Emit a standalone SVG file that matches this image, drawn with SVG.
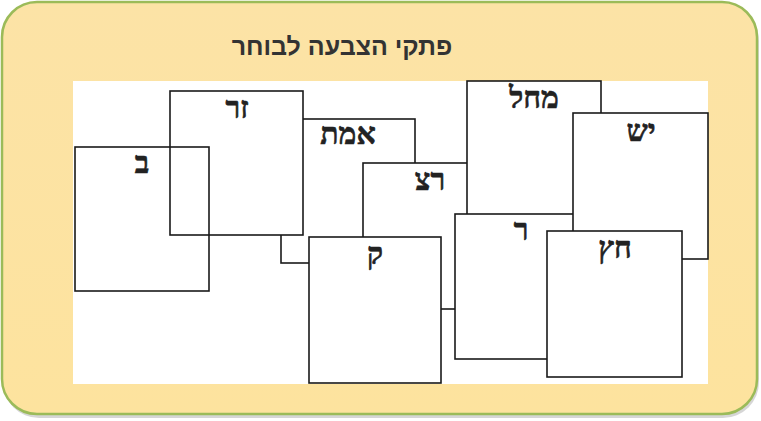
<svg xmlns="http://www.w3.org/2000/svg" width="761" height="421" viewBox="0 0 761 421">
<style>
.note{fill:#ffffff;stroke:#1a1a1a;stroke-width:1.6}
.open{fill:none;stroke:#1a1a1a;stroke-width:1.6}
.lbl{font-family:"Liberation Serif","DejaVu Serif",serif;font-size:30px;font-weight:bold;fill:#222;stroke:#222;stroke-width:0.6;text-anchor:middle}
.title{font-family:"Liberation Sans","DejaVu Sans",sans-serif;font-size:25px;font-weight:bold;fill:#333;text-anchor:middle}
</style>
<defs>
<linearGradient id="bg" x1="0" y1="0" x2="0" y2="1">
<stop offset="0" stop-color="#FCE3A6"/>
<stop offset="1" stop-color="#FDE39E"/>
</linearGradient>
</defs>
<g id="frame">
<rect x="3" y="5" width="756" height="413" rx="36" fill="#8a8a8a" opacity="0.35"/>
<rect x="2" y="2" width="755" height="412" rx="35" fill="url(#bg)" stroke="#9BBB59" stroke-width="2.5"/>
<rect x="73" y="81" width="635" height="303" fill="#ffffff"/>
<text class="title" x="342" y="55" direction="rtl">פתקי הצבעה לבוחר</text>
</g>
<g id="connectors"></g>
<g id="n-amt"><rect class="note" x="281" y="119" width="134" height="144"/><text class="lbl" x="348" y="144">אמת</text></g>
<g id="n-zr"><rect class="note" x="170" y="91" width="133" height="144"/><text class="lbl" x="237" y="118">זר</text></g>
<g id="n-rz"><rect class="note" x="363" y="163" width="134" height="146"/><text class="lbl" x="430" y="190">רצ</text></g>
<g id="n-k"><rect class="note" x="309" y="237" width="132" height="146"/><text class="lbl" x="375" y="264">ק</text></g>
<g id="n-mhl"><rect class="note" x="467" y="81" width="134" height="145"/><text class="lbl" x="534" y="108">מחל</text></g>
<g id="n-r"><rect class="note" x="455" y="214" width="133" height="145"/><text class="lbl" x="521" y="240">ר</text></g>
<g id="n-ysh"><rect class="note" x="573" y="113" width="135" height="146"/><text class="lbl" x="641" y="141">יש</text></g>
<g id="n-hz"><rect class="note" x="547" y="231" width="135" height="146"/><text class="lbl" x="615" y="258">חץ</text></g>
<g id="n-b"><rect class="open" x="75" y="147" width="134" height="144"/><text class="lbl" x="142" y="173">ב</text></g>
</svg>
